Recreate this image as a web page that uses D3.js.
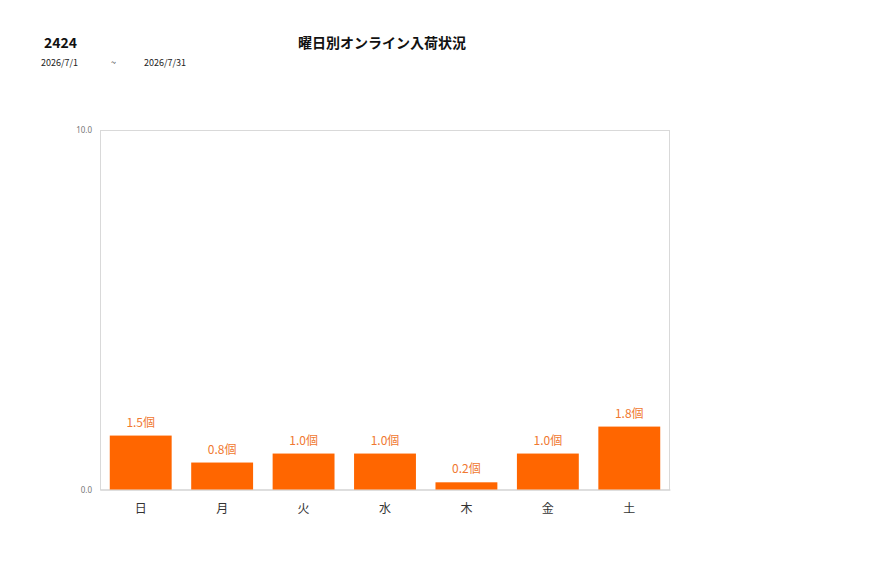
<!DOCTYPE html>
<html><head><meta charset="utf-8">
<script src="https://cdn.jsdelivr.net/npm/d3@7"></script>
<style>body{margin:0;background:#fff;font-family:"Noto Sans CJK JP","Noto Sans",sans-serif;}</style>
</head><body>
<svg id="c" width="877" height="578"></svg>
<script>
const categories = ["日","月","火","水","木","金","土"];
const values = [1.5, 0.75, 1.0, 1.0, 0.2, 1.0, 1.75];
const yTicks = [0, 10];
const code = "2424";
const title = "曜日別オンライン入荷状況";
const dateFrom = "2026/7/1", dateSep = "~", dateTo = "2026/7/31";
const unit = "個";

const svg = d3.select("#c");
const m = {left:100, right:670, top:130, bottom:489.5};
const x = d3.scaleBand().domain(categories).range([m.left, m.right]).paddingInner(0.24).paddingOuter(0.12);
const y = d3.scaleLinear().domain([0,10]).range([m.bottom, m.top]);

svg.append("text").attr("x",44).attr("y",48).attr("font-size",14).attr("font-weight","bold").attr("fill","#111").text(code);
svg.append("text").attr("x",382).attr("y",48).attr("text-anchor","middle").attr("font-size",14).attr("font-weight","bold").attr("fill","#111").text(title);
svg.append("text").attr("x",41).attr("y",66).attr("font-size",9).attr("fill","#222").text(dateFrom);
svg.append("text").attr("x",111).attr("y",66).attr("font-size",9).attr("fill","#222").text(dateSep);
svg.append("text").attr("x",144).attr("y",66).attr("font-size",9).attr("fill","#222").text(dateTo);

// frame
svg.append("rect").attr("x",m.left+0.5).attr("y",m.top+0.5).attr("width",m.right-m.left-1).attr("height",m.bottom-m.top)
  .attr("fill","none").attr("stroke","#d9d9d9");

const yAxis = d3.axisLeft(y).tickValues(yTicks).tickSize(0).tickPadding(8).tickFormat(d3.format(".1f"));
const gy = svg.append("g").attr("transform",`translate(${m.left},0)`).call(yAxis);
gy.select(".domain").remove();
gy.selectAll("text").attr("font-size",8).attr("fill","#777").attr("font-family","'Noto Sans',sans-serif");

const xAxis = d3.axisBottom(x).tickSize(0).tickPadding(15);
const gx = svg.append("g").attr("transform",`translate(0,${m.bottom})`).call(xAxis);
gx.select(".domain").attr("stroke","#d0d0d0");
gx.selectAll("text").attr("font-size",12).attr("fill","#333").attr("font-family","'Noto Sans CJK JP',sans-serif");

svg.append("g").selectAll("rect").data(values).join("rect")
  .attr("x",(d,i)=>x(categories[i])).attr("width",x.bandwidth())
  .attr("y",d=>y(d)).attr("height",d=>y(0)-y(d)).attr("fill","#ff6600");

svg.append("g").selectAll("text").data(values).join("text")
  .attr("x",(d,i)=>x(categories[i])+x.bandwidth()/2).attr("y",d=>y(d)-9)
  .attr("text-anchor","middle").attr("font-size",12).attr("fill","#f07830")
  .text(d=>d.toFixed(1)+unit);
</script>
</body></html>
